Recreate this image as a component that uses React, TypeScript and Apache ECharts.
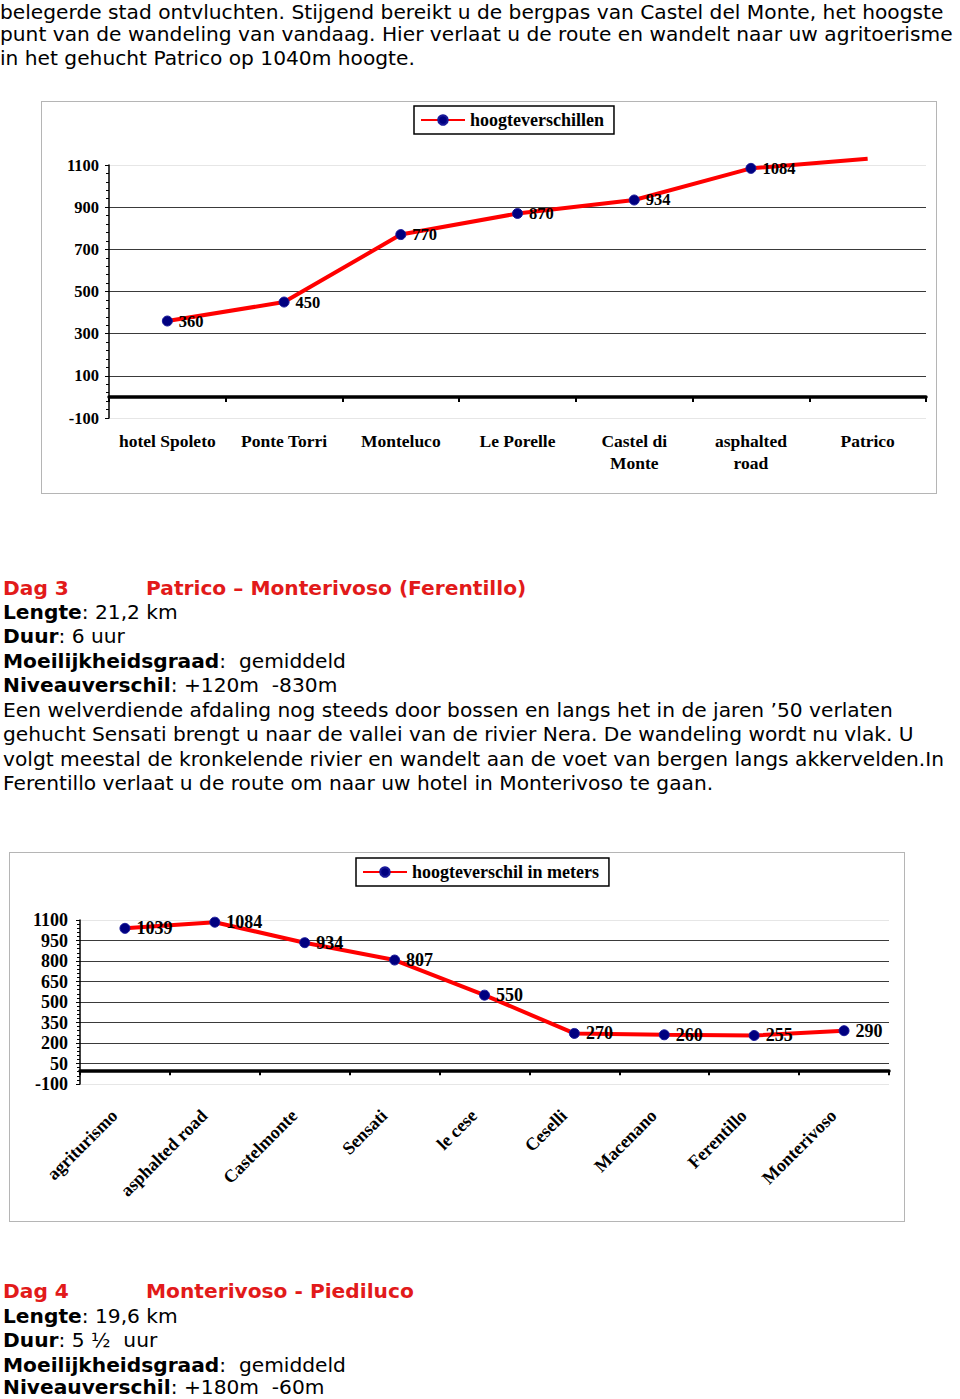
import React, { useEffect, useRef } from "react";
import * as echarts from "echarts";

// ---------- Chart 1 data ----------
const cats1 = ["hotel Spoleto", "Ponte Torri", "Monteluco", "Le Porelle", "Castel di\nMonte", "asphalted\nroad", "Patrico"];
const vals1 = [360, 450, 770, 870, 934, 1084, 1130];
const legend1 = "hoogteverschillen";
const yMin1 = -100, yMax1 = 1100, yStep1 = 200;

// ---------- Chart 2 data ----------
const cats2 = ["agriturismo", "asphalted road", "Castelmonte", "Sensati", "le cese", "Ceselli", "Macenano", "Ferentillo", "Monterivoso"];
const vals2 = [1039, 1084, 934, 807, 550, 270, 260, 255, 290];
const legend2 = "hoogteverschil in meters";
const yMin2 = -100, yMax2 = 1100, yStep2 = 150;

// ---------- Text ----------
const introLines = [
  "belegerde stad ontvluchten. Stijgend bereikt u de bergpas van Castel del Monte, het hoogste",
  "punt van de wandeling van vandaag. Hier verlaat u de route en wandelt naar uw agritoerisme",
  "in het gehucht Patrico op 1040m hoogte.",
];
const dag3Title = ["Dag 3", "Patrico – Monterivoso (Ferentillo)"];
const dag3Facts = [
  ["Lengte", ": 21,2 km"],
  ["Duur", ": 6 uur"],
  ["Moeilijkheidsgraad", ":  gemiddeld"],
  ["Niveauverschil", ": +120m  -830m"],
];
const dag3Text = [
  "Een welverdiende afdaling nog steeds door bossen en langs het in de jaren ’50 verlaten",
  "gehucht Sensati brengt u naar de vallei van de rivier Nera. De wandeling wordt nu vlak. U",
  "volgt meestal de kronkelende rivier en wandelt aan de voet van bergen langs akkervelden.In",
  "Ferentillo verlaat u de route om naar uw hotel in Monterivoso te gaan.",
];
const dag4Title = ["Dag 4", "Monterivoso - Piediluco"];
const dag4Facts = [
  ["Lengte", ": 19,6 km"],
  ["Duur", ": 5 ½  uur"],
  ["Moeilijkheidsgraad", ":  gemiddeld"],
  ["Niveauverschil", ": +180m  -60m"],
];

const RED = "#e21a1a";
const SERIF = "'Liberation Serif', 'Times New Roman', serif";
const SANS = "'DejaVu Sans', Verdana, sans-serif";

function splitColors(min: number, max: number, step: number) {
  const n = Math.round((max - min) / step) + 1;
  const arr: string[] = [];
  for (let i = 0; i < n; i++) arr.push(i === 0 || i === n - 1 ? "#e6e6e6" : "#3a3a3a");
  return arr;
}

function makeOption(cfg: any) {
  return {
    animation: false,
    legend: {
      show: true,
      left: cfg.legendLeft,
      top: cfg.legendTop,
      data: [cfg.legendName],
      itemWidth: 44,
      itemHeight: 12,
      borderColor: "#000",
      borderWidth: 1.5,
      padding: [5, 10, 5, 6],
      itemGap: 4,
      textStyle: { fontFamily: SERIF, fontWeight: "bold", fontSize: cfg.legendFont, color: "#000" },
    },
    grid: { left: cfg.gl, right: cfg.gr, top: cfg.gt, bottom: cfg.gb, containLabel: false },
    xAxis: {
      type: "category",
      data: cfg.cats,
      boundaryGap: true,
      axisLine: { onZero: true, lineStyle: { color: "#000", width: 3.5 } },
      axisTick: { show: true, length: 5, lineStyle: { color: "#000", width: 2 } },
      axisLabel: {
        interval: 0,
        margin: cfg.labelMargin,
        rotate: cfg.rotate,
        padding: cfg.labelPadding,
        fontFamily: SERIF,
        fontWeight: "bold",
        fontSize: cfg.catFont,
        color: "#000",
        lineHeight: 22,
      },
    },
    yAxis: {
      type: "value",
      min: cfg.min,
      max: cfg.max,
      interval: cfg.step,
      axisLine: { show: true, lineStyle: { color: "#000", width: 1.5 } },
      axisTick: { show: true, length: 4, lineStyle: { color: "#000" } },
      minorTick: { show: true, splitNumber: 5, length: 3, lineStyle: { color: "#000" } },
      axisLabel: {
        fontFamily: SERIF,
        fontWeight: "bold",
        fontSize: cfg.yFont,
        color: "#000",
        margin: cfg.yMargin,
        formatter: (v: number) => String(v),
      },
      splitLine: { show: true, lineStyle: { color: splitColors(cfg.min, cfg.max, cfg.step), width: 1.2 } },
    },
    series: [
      {
        name: cfg.legendName,
        type: "line",
        clip: false,
        data: cfg.data,
        symbol: "circle",
        symbolSize: 10,
        lineStyle: { color: "#ff0000", width: 4 },
        itemStyle: { color: "#000080", borderColor: "#1a1a9a", borderWidth: 1 },
        label: {
          show: true,
          position: "right",
          distance: 6,
          fontFamily: SERIF,
          fontWeight: "bold",
          fontSize: cfg.dataFont,
          color: "#000",
        },
      },
    ],
  };
}

function Chart({ style, option }: { style: React.CSSProperties; option: any }) {
  const ref = useRef<HTMLDivElement>(null);
  useEffect(() => {
    if (!ref.current) return;
    const c = echarts.init(ref.current, undefined, { renderer: "svg" });
    c.setOption(option);
    return () => c.dispose();
  }, []);
  return (
    <div style={{ position: "absolute", border: "1px solid #b5b5b5", boxSizing: "border-box", ...style }}>
      <div ref={ref} style={{ width: "100%", height: "100%" }} />
    </div>
  );
}

const LH = 24.5;

function Line({ y, x = 3, lh = LH, children }: { y: number; x?: number; lh?: number; children: React.ReactNode }) {
  return (
    <div
      style={{
        position: "absolute",
        left: x,
        top: y - lh / 2,
        height: lh,
        lineHeight: lh + "px",
        fontFamily: SANS,
        fontSize: 20.2,
        whiteSpace: "pre",
        color: "#000",
      }}
    >
      {children}
    </div>
  );
}

function Title({ y, parts }: { y: number; parts: string[] }) {
  return (
    <>
      <Line y={y} x={3}>
        <span style={{ color: RED, fontWeight: "bold" }}>{parts[0]}</span>
      </Line>
      <Line y={y} x={146}>
        <span style={{ color: RED, fontWeight: "bold" }}>{parts[1]}</span>
      </Line>
    </>
  );
}

const introY = [11.5, 34, 58];
const dag4Y = [1316, 1340.5, 1365, 1386.5];

export default function App() {
  const data1 = vals1.map((v, i) =>
    i === vals1.length - 1 ? { value: v, symbol: "none", label: { show: false } } : v
  );
  const opt1 = makeOption({
    legendName: legend1,
    legendLeft: 372,
    legendTop: 4,
    legendFont: 18,
    gl: 67,
    gr: 10,
    gt: 63,
    gb: 75,
    cats: cats1,
    labelMargin: 12,
    labelPadding: 0,
    rotate: 0,
    catFont: 17.5,
    min: yMin1,
    max: yMax1,
    step: yStep1,
    yFont: 16.5,
    yMargin: 10,
    data: data1,
    dataFont: 16.5,
  });
  const opt2 = makeOption({
    legendName: legend2,
    legendLeft: 346,
    legendTop: 5,
    legendFont: 18,
    gl: 70,
    gr: 15,
    gt: 67,
    gb: 137,
    cats: cats2,
    labelMargin: 18,
    labelPadding: [0, 15, 0, 0],
    rotate: 45,
    catFont: 18,
    min: yMin2,
    max: yMax2,
    step: yStep2,
    yFont: 18,
    yMargin: 12,
    data: vals2,
    dataFont: 18,
  });
  return (
    <div style={{ position: "absolute", left: 0, top: 0, width: 960, height: 1399, overflow: "hidden", background: "#fff" }}>
      {introLines.map((t, i) => (
        <Line key={"i" + i} y={introY[i]} x={0} lh={22}>
          {t}
        </Line>
      ))}
      <Chart style={{ left: 41, top: 101, width: 896, height: 393 }} option={opt1} />
      <Title y={588} parts={dag3Title} />
      {dag3Facts.map((f, i) => (
        <Line key={"f3" + i} y={612 + i * LH}>
          <b>{f[0]}</b>
          {f[1]}
        </Line>
      ))}
      {dag3Text.map((t, i) => (
        <Line key={"t3" + i} y={710 + i * LH}>
          {t}
        </Line>
      ))}
      <Chart style={{ left: 9, top: 852, width: 896, height: 370 }} option={opt2} />
      <Title y={1291} parts={dag4Title} />
      {dag4Facts.map((f, i) => (
        <Line key={"f4" + i} y={dag4Y[i]} lh={i === 3 ? 20 : LH}>
          <b>{f[0]}</b>
          {f[1]}
        </Line>
      ))}
    </div>
  );
}
